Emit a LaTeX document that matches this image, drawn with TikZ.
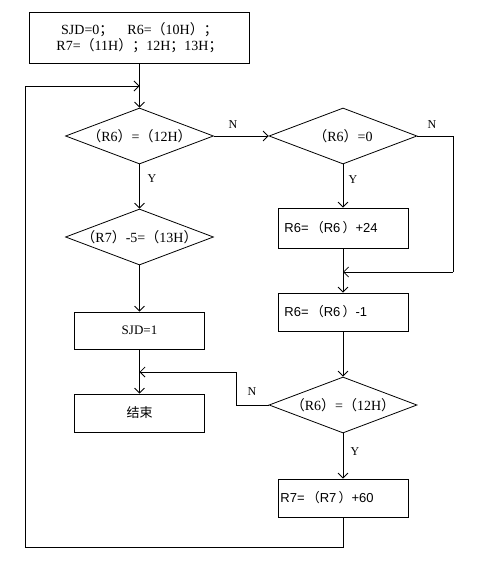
\documentclass[tikz,border=0pt]{standalone}
\usepackage{fontspec}
\setmainfont{Liberation Serif}
\newfontfamily\cjk{Noto Sans CJK SC}
\newfontfamily\sansf{Liberation Sans}
\usetikzlibrary{shapes.geometric,arrows.meta}
\newcommand{\zlp}{{\cjk （}}
\newcommand{\zrp}{{\cjk ）}}
\newcommand{\zsc}{{\cjk ；}}
\begin{document}
\begin{tikzpicture}[x=1pt,y=-1pt, line width=0.8pt,
  >={Straight Barb[length=5pt,width=10pt]},
  box/.style={draw, minimum width=130pt, minimum height=38pt, inner sep=0pt},
  dia/.style={draw, diamond, minimum width=148pt, minimum height=56pt, inner sep=0pt},
  dtext/.style={font=\fontsize{14}{16}\selectfont, inner sep=0pt},
  lbl/.style={font=\fontsize{12}{14}\selectfont, inner sep=1pt},
  txt/.style={font=\sansf\fontsize{13}{15}\selectfont, inner sep=0pt, anchor=west}]
\useasboundingbox (0,0) rectangle (493,561);
\node[draw, minimum width=220pt, minimum height=51pt, inner sep=0pt, align=center, font=\fontsize{14}{16.5}\selectfont] (init) at (139.5,37.5)
  {SJD=0\zsc\quad R6=\zlp 10H\zrp\zsc\\R7=\zlp 11H\zrp\zsc 12H\zsc 13H\zsc};
\node[dia] (d1) at (139.5,136) {};
\node[dtext] at (d1.center) {\zlp R6\zrp=\zlp 12H\zrp};
\node[dia] (d2) at (343,136) {};
\node[dtext] at (d2.center) {\zlp R6\zrp=0};
\node[dia] (d4) at (139.5,237) {};
\node[dtext] at (d4.center) {\zlp R7\zrp-5=\zlp 13H\zrp};
\node[box, minimum height=40pt] (b1) at (343,228) {};
\node[txt] at (284,228) {R6=\,\zlp R6\,\zrp+24};
\node[box] (b2) at (343,312) {};
\node[txt] at (284,312) {R6=\,\zlp R6\,\zrp-1};
\node[dia] (d3) at (343,405) {};
\node[dtext] at (d3.center) {\zlp R6\zrp=\zlp 12H\zrp};
\node[box] (b3) at (343,498) {};
\node[txt] at (280,498) {R7=\,\zlp R7\,\zrp+60};
\node[box, minimum height=37pt, font=\fontsize{13}{15}\selectfont] (sjd) at (139.5,330.5) {SJD=1};
\node[box, font=\cjk\fontsize{13}{15}\selectfont] (end) at (139.5,413) {结束};
\coordinate (j1) at (139.5,86);
\coordinate (j2) at (343,272);
\coordinate (j3) at (139.5,372);
\draw (init.south) -- (j1);
\draw[->] (j1) -- (d1.north);
\draw[->] (d1.east) -- (d2.west);
\node[lbl] at (233,125) {N};
\draw[->] (d1.south) -- (d4.north);
\node[lbl] at (152,179) {Y};
\draw[->] (d2.south) -- (b1.north);
\node[lbl] at (353,180) {Y};
\draw (d2.east) -- (453,136) -- (453,272);
\draw[->] (453,272) -- (j2);
\node[lbl] at (432,125) {N};
\draw (b1.south) -- (j2);
\draw[->] (j2) -- (b2.north);
\draw[->] (b2.south) -- (d3.north);
\draw[->] (d4.south) -- (sjd.north);
\draw (sjd.south) -- (j3);
\draw[->] (j3) -- (end.north);
\draw (d3.west) -- (236,405) -- (236,372);
\draw[->] (236,372) -- (j3);
\node[lbl] at (252,392) {N};
\draw[->] (d3.south) -- (b3.north);
\node[lbl] at (355,452) {Y};
\draw (b3.south) -- (343,547) -- (25,547) -- (25,86);
\draw[->] (25,86) -- (j1);
\end{tikzpicture}
\end{document}
